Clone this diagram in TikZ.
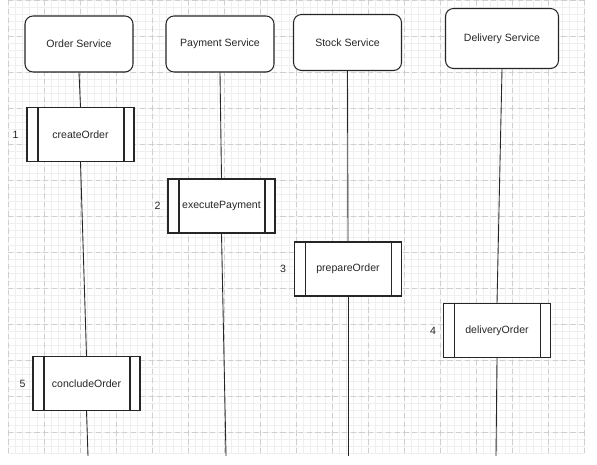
\documentclass[tikz,border=0pt]{standalone}
\usepackage{fontspec}
\setmainfont{Liberation Sans}
\usetikzlibrary{positioning}
\definecolor{ink}{HTML}{262626}
\definecolor{gridminor}{HTML}{EFEFEF}
\definecolor{gridmajor}{HTML}{CFCFCF}
\tikzstyle{service} = [rectangle, rounded corners=0.16cm, minimum width=2.16cm, minimum height=1.12cm, text centered, draw=ink, line width=0.6pt, fill=white, text=ink, font=\fontsize{6}{7}\selectfont]
\tikzstyle{process} = [rectangle, minimum width=2.14cm, minimum height=1.08cm, text centered, draw=ink, line width=0.6pt, fill=white, text=ink, font=\fontsize{6}{7}\selectfont,
  path picture={
    \draw[ink, line width=0.6pt] ([xshift=0.22cm]path picture bounding box.north west) -- ([xshift=0.22cm]path picture bounding box.south west);
    \draw[ink, line width=0.6pt] ([xshift=-0.2cm]path picture bounding box.north east) -- ([xshift=-0.2cm]path picture bounding box.south east);
  }]
\tikzstyle{lifeline} = [draw=ink, line width=0.5pt]
\tikzstyle{minorline} = [draw=gridminor, line width=0.3pt]
\tikzstyle{majorline} = [draw=gridmajor, line width=0.4pt, densely dashed]

\begin{document}
\begin{tikzpicture}[x=0.02cm, y=-0.02cm, every label/.style={font=\fontsize{6}{7}\selectfont, text=ink, inner sep=1pt}]

\useasboundingbox (0,0) rectangle (597,465);

% Grid paper
\foreach \i in {0,...,80}
  \draw[minorline] ({8+7.2*\i},0) -- ({8+7.2*\i},454);
\foreach \j in {0,...,63}
  \draw[minorline] (8,{7.2*\j}) -- (584,{7.2*\j});
\foreach \i in {0,...,16}
  \draw[majorline] ({8+36*\i},0) -- ({8+36*\i},454);
\foreach \j in {0,...,12}
  \draw[majorline] (8,{36*\j}) -- (584,{36*\j});

% Services
\node (svcOrder) [service] at (79,44) {Order Service};
\node (svcPayment) [service] at (220,44) {Payment Service};
\node (svcStock) [service] at (347.5,42.5) {Stock Service};
\node (svcDelivery) [service, minimum width=2.26cm, minimum height=1.2cm] at (502,38.5) {Delivery Service};

% Steps
\node (create) [process, label={[label distance=0.12cm]left:1}] at (80.5,134.5) {createOrder};
\node (execute) [process, label={[label distance=0.1cm]left:2}] at (221.5,206) {executePayment};
\node (prepare) [process, label={[label distance=0.12cm]left:3}] at (348,269) {prepareOrder};
\node (delivery) [process, label={[label distance=0.1cm]left:4}] at (497,330.5) {deliveryOrder};
\node (conclude) [process, label={[label distance=0.1cm]left:5}] at (86.5,383.5) {concludeOrder};

% Lifeline ends
\coordinate (endOrder) at (88,456);
\coordinate (endPayment) at (226,456);
\coordinate (endStock) at (348,456);
\coordinate (endDelivery) at (496,456);

% Lifelines
\draw [lifeline] (svcOrder.south) -- (create.north);
\draw [lifeline] (create.south) -- (conclude.north);
\draw [lifeline] (conclude.south) -- (endOrder);
\draw [lifeline] (svcPayment.south) -- (execute.north);
\draw [lifeline] (execute.south) -- (endPayment);
\draw [lifeline] (svcStock.south) -- (prepare.north);
\draw [lifeline] (prepare.south) -- (endStock);
\draw [lifeline] (svcDelivery.south) -- (delivery.north);
\draw [lifeline] (delivery.south) -- (endDelivery);

\end{tikzpicture}
\end{document}
